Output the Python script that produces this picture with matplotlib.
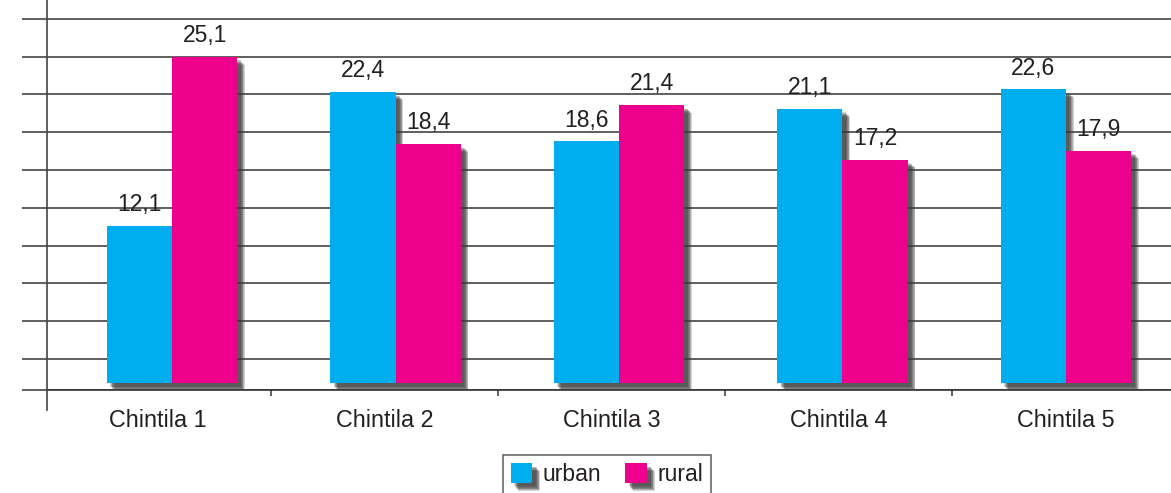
import numpy as np
import matplotlib
matplotlib.use("Agg")
import matplotlib.pyplot as plt
import matplotlib.patheffects as pe
from matplotlib.lines import Line2D

plt.rcParams['font.family'] = ['Liberation Sans', 'DejaVu Sans']

categories = ["Chintila 1", "Chintila 2", "Chintila 3", "Chintila 4", "Chintila 5"]
urban = [12.1, 22.4, 18.6, 21.1, 22.6]
rural = [25.1, 18.4, 21.4, 17.2, 17.9]
value_labels_urban = ["12,1", "22,4", "18,6", "21,1", "22,6"]
value_labels_rural = ["25,1", "18,4", "21,4", "17,2", "17,9"]

c_urban = "#00AEEF"
c_rural = "#EC008C"
txt = "#231F20"
line_col = "#444444"

W, H = 1171, 493
fig = plt.figure(figsize=(W / 100, H / 100), dpi=100)
ax = fig.add_axes([47 / W, 103 / H, 1 - 47 / W, 390 / H])

ymin, ymax = -0.515, 29.48
ax.set_ylim(ymin, ymax)
ax.set_xlim(-0.489, 4.463)

# blurred drop shadow: a stack of faint offset copies
shadow = [pe.SimplePatchShadow(offset=(d, -d), shadow_rgbFace="#3a3a3a", alpha=0.22)
          for d in (5.5, 5.0, 4.5, 4.0, 3.5, 3.0, 2.5)]
shadow.append(pe.Normal())

x = np.arange(len(categories))
xb = 0.062 + 0.9845 * x  # bar groups sit slightly right of the category slots
w = 0.287
b1 = ax.bar(xb - w / 2, urban, w, color=c_urban, label="urban", zorder=3,
            path_effects=shadow)
b2 = ax.bar(xb + w / 2, rural, w, color=c_rural, label="rural", zorder=3,
            path_effects=shadow)

for bars, labels in ((b1, value_labels_urban), (b2, value_labels_rural)):
    for r, lab in zip(bars, labels):
        ax.annotate(lab, (r.get_x() + r.get_width() / 2, r.get_height()),
                    xytext=(0, 7), textcoords="offset points",
                    ha="center", va="bottom", fontsize=16.5, color=txt,
                    zorder=5)

# horizontal rules, extending left of the axis
grid_levels = [ymin] + list(1.87 + 2.906 * np.arange(10))
ax.set_yticks(grid_levels)
ax.set_yticklabels([])
ax.tick_params(axis="y", length=18, width=1.2, color=line_col, direction="out")
ax.grid(axis="y", color=line_col, linewidth=1.2, zorder=0)
ax.set_axisbelow(True)

ax.set_xticks(x)
ax.set_xticklabels(categories, fontsize=16.8, color=txt)
ax.tick_params(axis="x", length=0, pad=14)
ax.set_xticks(x[:-1] + 0.5, minor=True)
ax.tick_params(axis="x", which="minor", length=4.5, width=1.2, color=line_col)

for s in ("top", "right"):
    ax.spines[s].set_visible(False)
ax.spines["left"].set_color(line_col)
ax.spines["left"].set_linewidth(1.2)
ax.spines["bottom"].set_color("#333333")
ax.spines["bottom"].set_linewidth(1.2)

# vertical axis continues a little below the baseline
fig.add_artist(Line2D([47 / W, 47 / W], [1 - 410 / H, 1 - 390 / H],
                      color=line_col, linewidth=1.2))

leg = fig.legend(handles=[b1, b2], loc="upper center",
                 bbox_to_anchor=(607 / W, 1 - 455 / H), ncol=2,
                 fontsize=16.5, frameon=True, fancybox=False,
                 edgecolor=line_col, handlelength=0.95, handleheight=0.95,
                 handletextpad=0.45, columnspacing=1.05, borderpad=0.35,
                 borderaxespad=0)
leg.get_frame().set_linewidth(1.2)
for t in leg.get_texts():
    t.set_color(txt)

fig.savefig("out.png", dpi=100)
